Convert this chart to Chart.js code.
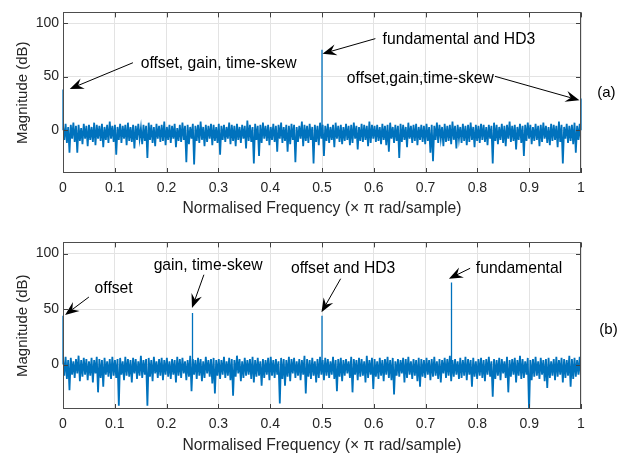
<!DOCTYPE html>
<html>
<head>
<meta charset="utf-8">
<script src="https://cdn.jsdelivr.net/npm/chart.js@4.4.1/dist/chart.umd.min.js"></script>
<style>
  html, body { margin: 0; padding: 0; background: #fff; }
  .panel { position: absolute; left: 0; width: 636px; height: 230px; }
  #panelA { top: 0; }
  #panelB { top: 230px; }
</style>
</head>
<body>
<div class="panel" id="panelA"><canvas id="chartA" width="636" height="230"></canvas></div>
<div class="panel" id="panelB"><canvas id="chartB" width="636" height="230"></canvas></div>
<script>
// ---- data ----
const freqTicks = [0, 0.1, 0.2, 0.3, 0.4, 0.5, 0.6, 0.7, 0.8, 0.9, 1];
const magTicks = [0, 50, 100];

// panel (a): noise floor, per bin upper and lower excursions (dB), 200 bins over 0..1
const noiseHighA = [
  4, 6, 3, 5, 7, 4, 5, 2, 6, 4, 5, 3, 7, 5, 4, 6, 3, 5, 8, 4,
  5, 3, 6, 4, 5, 7, 3, 5, 4, 6, 2, 5, 4, 7, 5, 3, 6, 4, 5, 8,
  3, 5, 4, 6, 2, 5, 7, 4, 5, 3, 6, 4, 5, 8, 3, 5, 4, 6, 5, 3,
  6, 4, 5, 3, 7, 5, 4, 6, 3, 5, 4, 9, 5, 3, 6, 4, 5, 7, 4, 5,
  3, 6, 4, 5, 7, 3, 5, 4, 6, 5, 3, 4, 8, 5, 4, 6, 3, 5, 4, 7,
  5, 4, 6, 3, 5, 7, 4, 5, 3, 6, 4, 5, 7, 4, 3, 6, 5, 4, 8, 5,
  4, 5, 3, 6, 4, 5, 7, 3, 5, 4, 6, 5, 3, 7, 4, 5, 6, 3, 5, 4,
  6, 3, 5, 4, 7, 5, 3, 6, 4, 5, 8, 4, 5, 3, 6, 4, 5, 7, 3, 5,
  4, 6, 5, 3, 5, 4, 7, 5, 3, 6, 4, 5, 8, 4, 5, 3, 6, 4, 5, 7,
  5, 3, 6, 4, 5, 7, 4, 3, 6, 5, 4, 8, 5, 3, 6, 4, 5, 7, 4, 6
];
const noiseLowA = [
  -9, -12, -21, -8, -11, -21, -10, -13, -8, -15, -9, -11, -14, -8, -10, -16, -9, -12, -8, -11,
  -23, -9, -12, -8, -14, -10, -11, -17, -9, -8, -13, -10, -26, -9, -12, -15, -8, -11, -10, -14,
  -9, -12, -8, -16, -10, -11, -9, -30, -13, -8, -32, -10, -12, -9, -15, -11, -8, -14, -10, -12,
  -23, -9, -11, -8, -13, -10, -15, -9, -12, -8, -17, -10, -11, -31, -9, -24, -12, -8, -10, -14,
  -9, -11, -20, -8, -12, -10, -20, -13, -9, -30, -11, -8, -15, -10, -12, -9, -31, -11, -14, -8,
  -24, -10, -12, -9, -16, -8, -11, -13, -10, -9, -14, -12, -8, -18, -10, -11, -9, -15, -12, -8,
  -11, -10, -13, -9, -14, -20, -8, -12, -10, -26, -11, -9, -16, -8, -12, -10, -14, -9, -11, -13,
  -10, -21, -29, -9, -12, -8, -15, -11, -10, -13, -9, -17, -8, -12, -10, -14, -11, -9, -16, -10,
  -12, -9, -11, -14, -8, -31, -10, -13, -9, -12, -15, -8, -11, -10, -18, -9, -12, -24, -10, -8,
  -13, -10, -9, -15, -11, -8, -12, -14, -10, -9, -16, -11, -31, -8, -12, -10, -13, -21, -9, -11
];
const spikeFreqA = [0, 0.5, 1];
const spikePeakA = [38, 75, 29.5];

// panel (b)
const noiseHighB = [
  5, 7, 4, 6, 3, 5, 8, 4, 6, 5, 3, 6, 4, 7, 5, 4, 6, 3, 5, 7,
  4, 5, 6, 3, 7, 5, 4, 6, 5, 3, 8, 4, 5, 6, 4, 7, 3, 5, 6, 4,
  6, 3, 5, 4, 7, 5, 6, 3, 4, 8, 5, 4, 6, 5, 3, 7, 4, 5, 6, 4,
  5, 4, 7, 3, 6, 5, 4, 8, 5, 3, 6, 4, 5, 7, 4, 6, 3, 5, 4, 6,
  7, 4, 5, 3, 6, 5, 4, 7, 5, 6, 3, 5, 4, 8, 5, 4, 6, 3, 5, 7,
  4, 6, 5, 3, 7, 4, 5, 6, 4, 5, 3, 7, 5, 4, 6, 5, 3, 8, 4, 6,
  5, 3, 6, 4, 5, 7, 4, 6, 3, 5, 4, 6, 5, 7, 3, 5, 4, 6, 5, 4,
  6, 4, 5, 7, 3, 5, 4, 6, 5, 8, 4, 5, 3, 6, 4, 7, 5, 4, 6, 3,
  5, 6, 4, 5, 7, 3, 5, 4, 6, 5, 3, 7, 4, 5, 6, 4, 8, 5, 3, 6,
  4, 5, 7, 3, 6, 4, 5, 6, 3, 5, 7, 4, 6, 5, 4, 8, 5, 6, 4, 7
];
const noiseLowB = [
  -10, -13, -23, -9, -12, -8, -15, -11, -9, -14, -10, -16, -8, -25, -12, -20, -9, -11, -13, -10,
  -12, -37, -9, -14, -10, -11, -16, -8, -13, -10, -12, -9, -37, -11, -15, -8, -12, -10, -14, -9,
  -11, -13, -9, -16, -10, -12, -8, -14, -11, -24, -9, -13, -10, -15, -12, -8, -11, -17, -26, -10,
  -13, -9, -12, -10, -14, -28, -11, -8, -15, -12, -10, -9, -13, -16, -11, -10, -19, -12, -9, -14,
  -10, -12, -9, -35, -13, -19, -11, -15, -8, -12, -10, -14, -9, -26, -11, -13, -10, -16, -12, -9,
  -14, -10, -12, -9, -13, -24, -11, -15, -10, -8, -12, -25, -9, -14, -11, -10, -16, -12, -9, -22,
  -11, -13, -10, -15, -9, -12, -14, -27, -10, -11, -8, -16, -12, -9, -13, -10, -15, -20, -11, -12,
  -9, -14, -11, -10, -13, -16, -8, -12, -10, -15, -11, -9, -13, -12, -10, -14, -9, -20, -11, -13,
  -10, -12, -15, -9, -11, -29, -13, -10, -14, -8, -12, -25, -11, -9, -16, -10, -13, -12, -9, -42,
  -14, -11, -10, -13, -9, -15, -21, -12, -10, -14, -11, -9, -16, -12, -10, -20, -13, -11, -9, -12
];
const spikeFreqB = [0, 0.25, 0.5, 0.75];
const spikePeakB = [44, 46.5, 44, 74];

// annotations: text anchor (left, middle) and arrow tail -> head, in data units
const notesA = [
  { text: 'offset, gain, time-skew', tx: 0.150, ty: 62, from: [0.135, 63], to: [0.013, 38.5] },
  { text: 'fundamental and HD3', tx: 0.617, ty: 84.7, from: [0.603, 85.5], to: [0.501, 71.4] },
  { text: 'offset,gain,time-skew', tx: 0.548, ty: 48.5, from: [0.834, 50.3], to: [0.997, 28] }
];
const notesB = [
  { text: 'offset', tx: 0.061, ty: 68.2, from: [0.050, 60.8], to: [0.004, 44.7] },
  { text: 'gain, time-skew', tx: 0.175, ty: 89, from: [0.272, 80.9], to: [0.249, 50.9] },
  { text: 'offset and HD3', tx: 0.440, ty: 86.7, from: [0.536, 77.3], to: [0.499, 47] },
  { text: 'fundamental', tx: 0.797, ty: 86.7, from: [0.786, 86.7], to: [0.745, 77.3] }
];

const BLUE = '#0072BD';
const FONT = '"Liberation Sans", Arial, Helvetica, sans-serif';

function zigzag(hi, lo) {
  const n = hi.length * 2;
  const pts = [];
  hi.forEach((h, b) => {
    pts.push({ x: (2 * b) / (n - 1), y: h });
    pts.push({ x: (2 * b + 1) / (n - 1), y: lo[b] });
  });
  return pts;
}

function spikes(freqs, peaks) {
  const pts = [];
  freqs.forEach((f, i) => {
    pts.push({ x: f, y: 0 });
    pts.push({ x: f, y: peaks[i] });
    pts.push({ x: f, y: null });
  });
  return pts;
}

function drawArrow(ctx, x0, y0, x1, y1) {
  const ang = Math.atan2(y1 - y0, x1 - x0);
  const L = 14, W = 5.5, N = 9;
  const ux = Math.cos(ang), uy = Math.sin(ang);
  const bx = x1 - ux * L, by = y1 - uy * L;
  ctx.beginPath();
  ctx.moveTo(x0, y0);
  ctx.lineTo(x1 - ux * N, y1 - uy * N);
  ctx.stroke();
  ctx.beginPath();
  ctx.moveTo(x1, y1);
  ctx.lineTo(bx - uy * W, by + ux * W);
  ctx.lineTo(x1 - ux * N, y1 - uy * N);
  ctx.lineTo(bx + uy * W, by - ux * W);
  ctx.closePath();
  ctx.fill();
}

const furniture = {
  id: 'furniture',
  afterDraw(chart, args, opts) {
    const { ctx, chartArea: a, scales: { x, y } } = chart;
    ctx.save();
    // inward tick marks
    ctx.strokeStyle = '#404040';
    ctx.lineWidth = 1;
    ctx.beginPath();
    freqTicks.forEach(v => {
      const px = Math.round(x.getPixelForValue(v)) + 0.5;
      ctx.moveTo(px, a.bottom); ctx.lineTo(px, a.bottom - 5);
      ctx.moveTo(px, a.top); ctx.lineTo(px, a.top + 5);
    });
    magTicks.forEach(v => {
      const py = Math.round(y.getPixelForValue(v)) + 0.5;
      ctx.moveTo(a.left, py); ctx.lineTo(a.left + 5, py);
      ctx.moveTo(a.right, py); ctx.lineTo(a.right - 5, py);
    });
    ctx.stroke();
    // box
    ctx.strokeStyle = '#4d4d4d';
    ctx.strokeRect(Math.round(a.left) + 0.5, Math.round(a.top) + 0.5,
      Math.round(a.width) - 1, Math.round(a.height) - 1);

    // axis titles
    ctx.fillStyle = '#262626';
    ctx.font = '15.7px ' + FONT;
    ctx.textAlign = 'center';
    ctx.textBaseline = 'middle';
    ctx.fillText('Normalised Frequency (\u00d7 \u03c0 rad/sample)', (a.left + a.right) / 2, a.bottom + opts.xTitleGap);
    ctx.save();
    ctx.font = '15px ' + FONT;
    ctx.translate(23, (a.top + a.bottom) / 2);
    ctx.rotate(-Math.PI / 2);
    ctx.fillText('Magnitude (dB)', 0, 0);
    ctx.restore();

    // annotations
    ctx.fillStyle = '#000';
    ctx.strokeStyle = '#000';
    ctx.lineWidth = 1;
    ctx.textAlign = 'left';
    opts.notes.forEach(n => {
      ctx.fillText(n.text, x.getPixelForValue(n.tx), y.getPixelForValue(n.ty));
      drawArrow(ctx,
        x.getPixelForValue(n.from[0]), y.getPixelForValue(n.from[1]),
        x.getPixelForValue(n.to[0]), y.getPixelForValue(n.to[1]));
    });
    ctx.font = '15px ' + FONT;
    ctx.textAlign = 'center';
    ctx.fillText(opts.label, x.getPixelForValue(opts.labelX), y.getPixelForValue(opts.labelY));
    ctx.restore();
  }
};

function makeChart(id, hi, lo, sf, sp, notes, label, labelX, labelY, pad, xh, xTitleGap) {
  return new Chart(document.getElementById(id), {
    type: 'line',
    data: {
      datasets: [
        { data: zigzag(hi, lo), borderColor: BLUE, borderWidth: 1.8, pointRadius: 0, tension: 0,
          borderJoinStyle: 'miter' },
        { data: spikes(sf, sp), borderColor: BLUE, borderWidth: 1.3, pointRadius: 0, spanGaps: false,
          clip: { left: 2, top: 0, right: 2, bottom: 0 } }
      ]
    },
    options: {
      responsive: false,
      animation: false,
      events: [],
      layout: { padding: pad },
      plugins: {
        legend: { display: false },
        tooltip: { enabled: false },
        furniture: { notes, label, labelX, labelY, xTitleGap }
      },
      scales: {
        x: {
          type: 'linear', min: 0, max: 1,
          afterBuildTicks: s => { s.ticks = freqTicks.map(v => ({ value: v })); },
          afterFit: s => { s.height = xh; },
          grid: { color: '#e3e3e3', drawTicks: false },
          border: { display: false },
          ticks: { padding: 7, color: '#262626', font: { family: FONT, size: 14 }, maxRotation: 0,
            callback: v => String(v) }
        },
        y: {
          min: -40, max: 110,
          afterBuildTicks: s => { s.ticks = magTicks.map(v => ({ value: v })); },
          afterFit: s => { s.width = 63; },
          grid: { color: '#e3e3e3', drawTicks: false },
          border: { display: false },
          ticks: { padding: 4, color: '#262626', font: { family: FONT, size: 14 } }
        }
      }
    },
    plugins: [furniture]
  });
}

makeChart('chartA', noiseHighA, noiseLowA, spikeFreqA, spikePeakA, notesA, '(a)', 1.049, 34.7,
  { top: 3, right: 55, left: 0, bottom: 0 }, 57, 36);
makeChart('chartB', noiseHighB, noiseLowB, spikeFreqB, spikePeakB, notesB, '(b)', 1.053, 31.7,
  { top: 11, right: 55, left: 0, bottom: 0 }, 51, 37);
</script>
</body>
</html>
